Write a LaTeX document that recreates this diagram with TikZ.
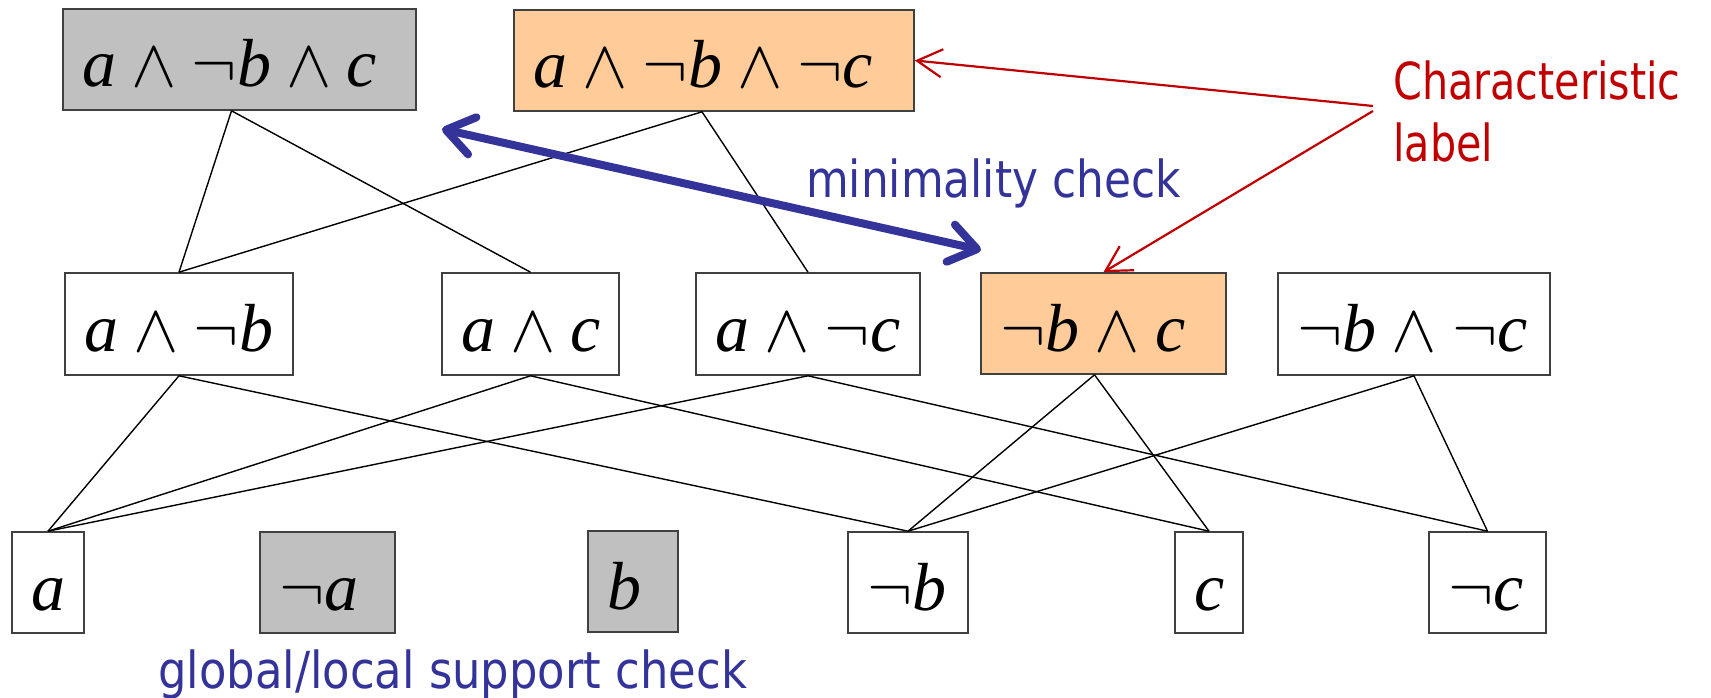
\documentclass[tikz,border=0pt]{standalone}
\usepackage{fix-cm}
\usepackage{fontspec}
\setmainfont{Liberation Serif}
\newfontfamily\checksans[FakeStretch=0.86]{DejaVu Sans}
\newfontfamily\supportsans[FakeStretch=0.88]{DejaVu Sans}
\newfontfamily\labelsans[FakeStretch=0.81]{DejaVu Sans}
\usetikzlibrary{arrows.meta}

\definecolor{grayfill}{HTML}{C0C0C0}
\definecolor{peach}{HTML}{FFCC99}
\definecolor{checkblue}{HTML}{333399}
\definecolor{labelred}{HTML}{C00000}

% italic letters of a literal
\newcommand{\lv}[1]{\textit{#1}}

% box with a left-aligned formula: name, left, top, right, bottom, fill, formula
\newcommand{\termbox}[7]{%
  \pgfmathsetmacro\tbW{#4-#2}%
  \pgfmathsetmacro\tbH{#5-#3}%
  \node[termframe, fill=#6, minimum width=\tbW pt, minimum height=\tbH pt]
    (#1) at ({(#2+#4)/2},{(#3+#5)/2}) {};
  \node[formula] (#1-t) at ({#2+19},{#3+78}) {#7};
}

\begin{document}
\begin{tikzpicture}[x=1pt,y=-1pt,
  termframe/.style={draw=black!75, line width=1.6pt, rectangle, inner sep=0pt},
  formula/.style={anchor=base west, inner sep=0pt, font=\fontsize{68}{80}\selectfont},
  edge/.style={line width=1.4pt, draw=black},
  redarrow/.style={draw=labelred, line width=2.2pt,
    -{Straight Barb[length=25pt,width=28pt]}},
  bluearrow/.style={draw=checkblue, line width=8pt,
    {Straight Barb[length=27pt,width=38pt,round]}-{Straight Barb[length=27pt,width=38pt,round]}},
  bluetext/.style={anchor=base west, inner sep=0pt, text=checkblue,
    font=\checksans\fontsize{51}{61}\selectfont},
  redtext/.style={anchor=base west, inner sep=0pt, text=labelred,
    font=\labelsans\fontsize{51}{61}\selectfont}]

\useasboundingbox (0,0) rectangle (1711,698);

% top level
\termbox{g1}{63}{9}{416}{110}{grayfill}{$\lv{a}\wedge\neg\lv{b}\wedge\lv{c}$}
\termbox{o1}{514}{10}{914}{111}{peach}{$\lv{a}\wedge\neg\lv{b}\wedge\neg\lv{c}$}

% middle level
\termbox{m1}{65}{273}{293}{375}{white}{$\lv{a}\wedge\neg\lv{b}$}
\termbox{m2}{442}{273}{619}{375}{white}{$\lv{a}\wedge\lv{c}$}
\termbox{m3}{696}{273}{920}{375}{white}{$\lv{a}\wedge\neg\lv{c}$}
\termbox{m4}{981}{273}{1226}{374}{peach}{$\neg\lv{b}\wedge\lv{c}$}
\termbox{m5}{1278}{273}{1550}{375}{white}{$\neg\lv{b}\wedge\neg\lv{c}$}

% literals
\termbox{b1}{12}{532}{84}{633}{white}{$\lv{a}$}
\termbox{b2}{260}{532}{395}{633}{grayfill}{$\neg\lv{a}$}
\termbox{b3}{588}{531}{678}{632}{grayfill}{$\lv{b}$}
\termbox{b4}{848}{532}{968}{633}{white}{$\neg\lv{b}$}
\termbox{b5}{1175}{532}{1243}{633}{white}{$\lv{c}$}
\termbox{b6}{1429}{532}{1546}{633}{white}{$\neg\lv{c}$}

% lattice edges
\draw[edge] ([xshift=-8pt]g1.south) -- (m1.north);
\draw[edge] ([xshift=-8pt]g1.south) -- (m2.north);
\draw[edge] ([xshift=-12pt]o1.south) -- (m1.north);
\draw[edge] ([xshift=-12pt]o1.south) -- (m3.north);
\draw[edge] (m1.south) -- (b1.north);
\draw[edge] (m1.south) -- (b4.north);
\draw[edge] (m2.south) -- (b1.north);
\draw[edge] (m2.south) -- (b5.north);
\draw[edge] (m3.south) -- (b1.north);
\draw[edge] (m3.south) -- (b6.north);
\draw[edge] ([xshift=-9pt]m4.south) -- (b4.north);
\draw[edge] ([xshift=-9pt]m4.south) -- (b5.north);
\draw[edge] (m5.south) -- (b4.north);
\draw[edge] (m5.south) -- (b6.north);

% minimality check
\coordinate (mcL) at (442,129);
\coordinate (mcR) at (981,250);
\draw[bluearrow] (mcL) -- (mcR);
\node[bluetext] (minc) at (806,197) {minimality check};

% characteristic label
\node[redtext] (charA) at (1393,100) {Characteristic};
\node[redtext] (charB) at (1393,161) {label};
\coordinate (clA) at (1373,106);
\coordinate (clB) at (1373,111);
\draw[redarrow] (clA) -- (o1.east);
\draw[redarrow] (clB) -- (m4.north);

% support check
\node[bluetext, font=\supportsans\fontsize{51}{61}\selectfont] (gls) at (158,688) {global/local support check};

\end{tikzpicture}
\end{document}
